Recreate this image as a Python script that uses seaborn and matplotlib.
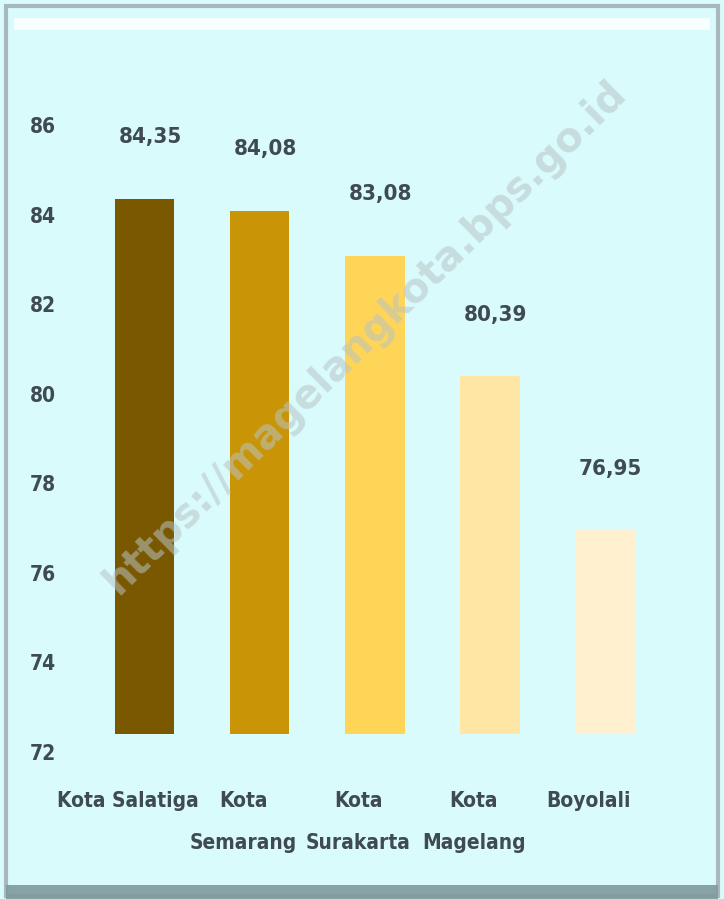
import matplotlib
matplotlib.use("Agg")
import matplotlib.pyplot as plt
import seaborn as sns
import pandas as pd
from matplotlib.patches import Rectangle

# data
regions = ["Kota Salatiga", "Kota\nSemarang", "Kota\nSurakarta", "Kota\nMagelang", "Boyolali"]
values = [84.35, 84.08, 83.08, 80.39, 76.95]
bar_colors = ["#7a5800", "#c99506", "#ffd558", "#ffe6a4", "#fff1cf"]
y_ticks = [72, 74, 76, 78, 80, 82, 84, 86]

bg = "#d9fbfc"
text_color = "#3f4a52"

sns.set_theme(style="white")
plt.rcParams['font.family'] = ['DejaVu Sans']
plt.rcParams['font.stretch'] = 'condensed'

df = pd.DataFrame({"region": regions, "value": values})

fig = plt.figure(figsize=(7.24, 8.99), dpi=100)
fig.patch.set_facecolor(bg)
ax = fig.add_axes([0.12, 0.1635, 0.795, 0.6975])
ax.set_facecolor(bg)

sns.barplot(data=df, x="region", y="value", hue="region", palette=bar_colors,
            saturation=1, legend=False, width=0.52, ax=ax)
ax.set_ylim(72, 86)
ax.set_xlim(-0.5, 4.5)
# bars start just above the 72 baseline, as in the original
for p, v in zip(ax.patches, values):
    p.set_y(72.4)
    p.set_height(v - 72.4)
    p.set_edgecolor("none")

for i, v in enumerate(values):
    ax.text(i + 0.05, v + 1.15, f"{v:.2f}".replace(".", ","), ha="center", va="bottom",
            fontsize=16, fontweight="bold", color=text_color, fontstretch="condensed")

ax.set_yticks(y_ticks)
ax.set_yticklabels([str(t) for t in y_ticks], fontsize=15, fontweight="bold",
                   color=text_color, fontstretch="condensed")
# category labels sit a little left of the bars in the original
ax.set_xticks([i - 0.14 for i in range(len(regions))])
ax.set_xticklabels(regions, fontsize=15, fontweight="bold", color=text_color,
                   va="top", linespacing=2.4, fontstretch="condensed")
ax.tick_params(axis="x", pad=28, length=0)
ax.tick_params(axis="y", pad=22, length=0)
ax.set_xlabel("")
ax.set_ylabel("")
sns.despine(ax=ax, left=True, bottom=True)

# watermark
fig.text(0.505, 0.625, "https://magelangkota.bps.go.id", rotation=44.5, ha="center", va="center",
         fontsize=29, fontweight="bold", color="#b8c4c4", alpha=0.55,
         family=['DejaVu Sans'], fontstretch="normal", zorder=10)

# frame
fig.patches.append(Rectangle((0.008, 0.003), 0.984, 0.99, transform=fig.transFigure,
                             fill=False, edgecolor="#a9b8bd", linewidth=3))
fig.patches.append(Rectangle((0.02, 0.967), 0.96, 0.013, transform=fig.transFigure,
                             facecolor="white", edgecolor="none", alpha=0.8))
fig.patches.append(Rectangle((0.008, 0.0), 0.984, 0.016, transform=fig.transFigure,
                             facecolor="#7f9a9c", edgecolor="none", alpha=0.9))

fig.savefig("out.png", dpi=100, facecolor=bg)
